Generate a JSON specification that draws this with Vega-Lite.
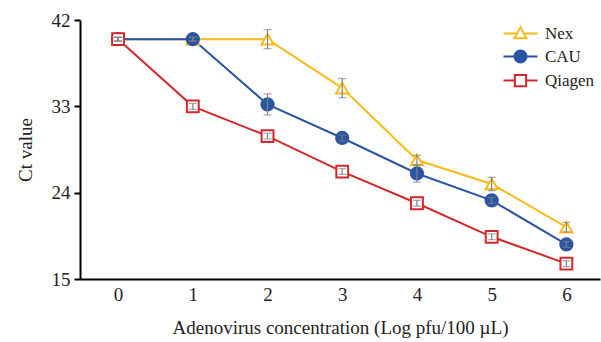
{
  "$schema": "https://vega.github.io/schema/vega-lite/v6.json",
  "width": 520,
  "height": 259,
  "autosize": "none",
  "padding": {"left": 80, "top": 20, "right": 1, "bottom": 63},
  "background": "white",
  "config": {
    "font": "Liberation Serif",
    "view": {"stroke": null},
    "axis": {"grid": false, "labelFont": "Liberation Serif", "titleFont": "Liberation Serif", "labelColor": "#222", "titleColor": "#222", "titleFontWeight": "normal", "domainColor": "#000", "domainWidth": 2, "tickColor": "#000", "tickWidth": 2},
    "legend": {"labelFont": "Liberation Serif"}
  },
  "data": {
    "values": [
      {"x": 0, "series": "Nex", "ct": 40.0, "lo": 39.8, "hi": 40.2},
      {"x": 1, "series": "Nex", "ct": 40.0, "lo": 39.8, "hi": 40.2},
      {"x": 2, "series": "Nex", "ct": 40.0, "lo": 39.0, "hi": 41.0},
      {"x": 3, "series": "Nex", "ct": 34.9, "lo": 33.9, "hi": 35.9},
      {"x": 4, "series": "Nex", "ct": 27.4, "lo": 26.9, "hi": 27.9},
      {"x": 5, "series": "Nex", "ct": 24.9, "lo": 24.2, "hi": 25.6},
      {"x": 6, "series": "Nex", "ct": 20.4, "lo": 19.9, "hi": 20.9},
      {"x": 0, "series": "CAU", "ct": 40.0, "lo": 39.8, "hi": 40.2},
      {"x": 1, "series": "CAU", "ct": 40.0, "lo": 39.8, "hi": 40.2},
      {"x": 2, "series": "CAU", "ct": 33.2, "lo": 32.1, "hi": 34.3},
      {"x": 3, "series": "CAU", "ct": 29.7, "lo": 29.4, "hi": 30.0},
      {"x": 4, "series": "CAU", "ct": 26.0, "lo": 25.1, "hi": 26.9},
      {"x": 5, "series": "CAU", "ct": 23.2, "lo": 22.9, "hi": 23.5},
      {"x": 6, "series": "CAU", "ct": 18.6, "lo": 18.3, "hi": 18.9},
      {"x": 0, "series": "Qiagen", "ct": 40.0, "lo": 39.8, "hi": 40.2},
      {"x": 1, "series": "Qiagen", "ct": 33.0, "lo": 32.7, "hi": 33.3},
      {"x": 2, "series": "Qiagen", "ct": 29.9, "lo": 29.6, "hi": 30.2},
      {"x": 3, "series": "Qiagen", "ct": 26.2, "lo": 25.9, "hi": 26.5},
      {"x": 4, "series": "Qiagen", "ct": 22.9, "lo": 22.6, "hi": 23.2},
      {"x": 5, "series": "Qiagen", "ct": 19.4, "lo": 19.1, "hi": 19.7},
      {"x": 6, "series": "Qiagen", "ct": 16.6, "lo": 16.3, "hi": 16.9}
    ]
  },
  "layer": [
    {
      "mark": {"type": "line", "strokeWidth": 2},
      "encoding": {
        "x": {"field": "x", "type": "quantitative", "scale": {"domain": [-0.51, 6.45], "nice": false, "zero": false},
              "axis": {"values": [0, 1, 2, 3, 4, 5, 6], "format": "d", "ticks": false, "labelFont": "Liberation Serif", "labelFontSize": 19, "labelPadding": 6, "title": "Adenovirus concentration (Log pfu/100 µL)", "titleFontSize": 19, "titlePadding": 14}},
        "y": {"field": "ct", "type": "quantitative", "scale": {"domain": [15, 42], "nice": false, "zero": false},
              "axis": {"values": [15, 24, 33, 42], "tickSize": 6, "labelFont": "Liberation Serif", "labelFontSize": 19, "labelPadding": 4, "title": "Ct value", "titleFontSize": 19, "titlePadding": 16}},
        "stroke": {"field": "series", "type": "nominal", "scale": {"domain": ["Nex", "CAU", "Qiagen"], "range": ["#F8BB1C", "#2A55A3", "#D3282C"]},
                 "legend": {"title": null, "orient": "none", "legendX": 432, "legendY": 5, "padding": 0, "labelFont": "Liberation Serif", "labelFontSize": 17, "labelColor": "#222", "symbolSize": 225, "symbolStrokeWidth": 2, "symbolOpacity": 1, "labelOffset": 16, "rowPadding": 3,
                   "encode": {"symbols": {"update": {
                     "shape": {"signal": "datum.value == 'Nex' ? 'M-2.27,0H-0.45M0.45,0H2.27M0,-0.85L0.8,0.62L-0.8,0.62Z' : datum.value == 'CAU' ? 'M-2.27,0H2.27M0.8,0A0.8,0.8,0,1,1,-0.8,0A0.8,0.8,0,1,1,0.8,0Z' : 'M-2.27,0H-0.75M0.75,0H2.27M-0.75,-0.75H0.75V0.75H-0.75Z'"},
                     "fill": {"signal": "datum.value == 'CAU' ? '#2A55A3' : '#ffffff'"},
                     "strokeWidth": {"value": 2},
                     "opacity": {"value": 1}
                   }}}}},
        "order": {"field": "x"}
      }
    },
    {
      "transform": [{"filter": "datum.series == 'Nex'"}],
      "mark": {"type": "point", "shape": "triangle-up", "stroke": "#F8BB1C", "fill": "#ffffff", "filled": true, "strokeWidth": 2, "opacity": 1, "size": 150},
      "encoding": {
        "x": {"field": "x", "type": "quantitative"},
        "y": {"field": "ct", "type": "quantitative"}
      }
    },
    {
      "transform": [{"filter": "datum.series == 'CAU'"}],
      "mark": {"type": "point", "shape": "circle", "stroke": "#2A55A3", "fill": "#2A55A3", "filled": true, "strokeWidth": 2, "opacity": 1, "size": 150},
      "encoding": {
        "x": {"field": "x", "type": "quantitative"},
        "y": {"field": "ct", "type": "quantitative"}
      }
    },
    {
      "transform": [{"filter": "datum.series == 'Qiagen'"}],
      "mark": {"type": "point", "shape": "square", "stroke": "#D3282C", "fill": "#ffffff", "filled": true, "strokeWidth": 2, "opacity": 1, "size": 140},
      "encoding": {
        "x": {"field": "x", "type": "quantitative"},
        "y": {"field": "ct", "type": "quantitative"}
      }
    },
    {
      "mark": {"type": "errorbar", "color": "#808080", "thickness": 1.2, "ticks": {"size": 8, "color": "#808080", "thickness": 1.2}},
      "encoding": {
        "x": {"field": "x", "type": "quantitative"},
        "y": {"field": "lo", "type": "quantitative", "title": "Ct value"},
        "y2": {"field": "hi"}
      }
    }
  ]
}
